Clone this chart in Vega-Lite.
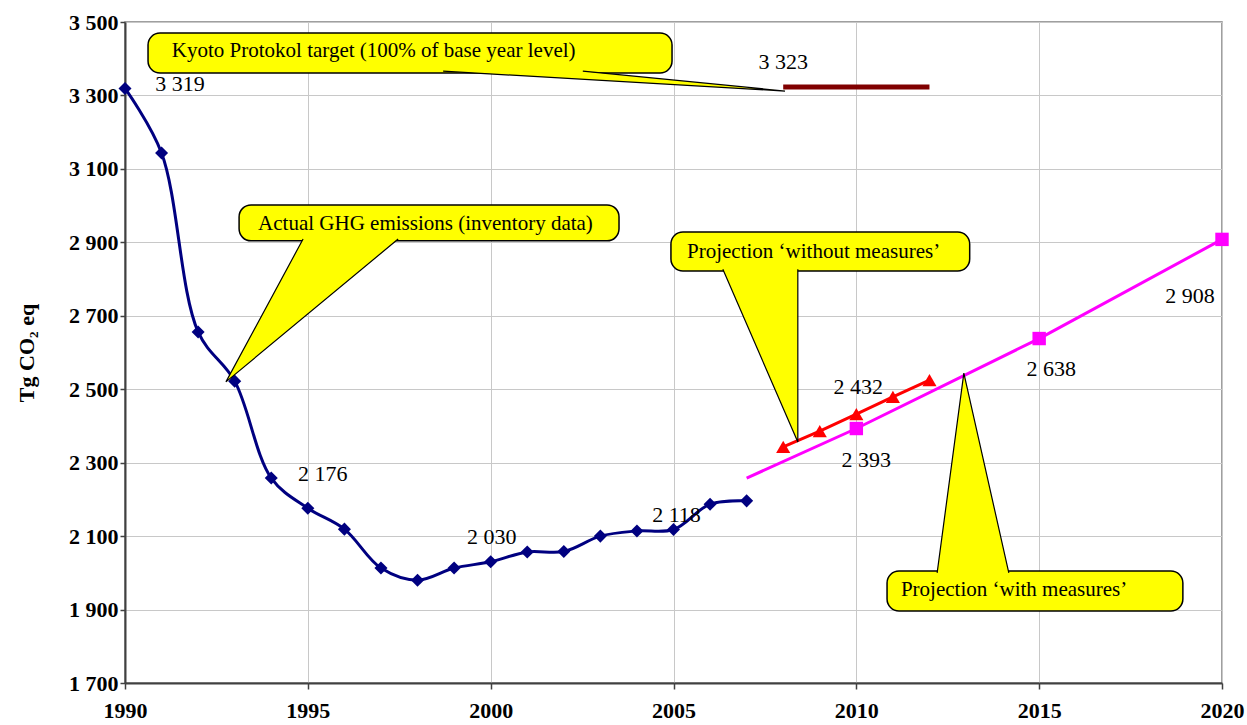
{
  "$schema": "https://vega.github.io/schema/vega-lite/v6.json",
  "width": 1097,
  "height": 661,
  "autosize": {"type": "none"},
  "padding": {"left": 125, "top": 22, "right": 25, "bottom": 42},
  "background": "white",
  "config": {
    "locale": {"number": {"decimal": ".", "thousands": " ", "grouping": [3], "currency": ["", ""]}},
    "view": {"stroke": "#808080", "strokeWidth": 1.5},
    "font": "Liberation Serif",
    "axis": {
      "labelFont": "Liberation Serif",
      "labelFontWeight": "bold",
      "labelFontSize": 22,
      "labelColor": "black",
      "labelFlush": false,
      "labelOverlap": false,
      "domainColor": "#404040",
      "domainWidth": 2,
      "tickColor": "#404040",
      "tickWidth": 1.5,
      "tickSize": 6,
      "gridColor": "#c8c8c8",
      "gridWidth": 1
    }
  },
  "datasets": {
    "inventory": [
      {"year": 1990, "value": 3319}, {"year": 1991, "value": 3143}, {"year": 1992, "value": 2656},
      {"year": 1993, "value": 2522}, {"year": 1994, "value": 2258}, {"year": 1995, "value": 2176},
      {"year": 1996, "value": 2119}, {"year": 1997, "value": 2013}, {"year": 1998, "value": 1980},
      {"year": 1999, "value": 2013}, {"year": 2000, "value": 2030}, {"year": 2001, "value": 2057},
      {"year": 2002, "value": 2058}, {"year": 2003, "value": 2100}, {"year": 2004, "value": 2114},
      {"year": 2005, "value": 2118}, {"year": 2006, "value": 2187}, {"year": 2007, "value": 2196}
    ],
    "without": [
      {"year": 2008, "value": 2343}, {"year": 2009, "value": 2386}, {"year": 2010, "value": 2432},
      {"year": 2011, "value": 2479}, {"year": 2012, "value": 2525}
    ],
    "with": [
      {"year": 2007, "value": 2258}, {"year": 2010, "value": 2393}, {"year": 2015, "value": 2638},
      {"year": 2020, "value": 2908}
    ],
    "kyoto": [
      {"year": 2008, "value": 3323}, {"year": 2012, "value": 3323}
    ],
    "boxes": [
      {"name": "kyoto", "x1": 1990.63, "x2": 2004.96, "y1": 3470, "y2": 3361, "tx": 1991.28, "ty": 3422, "text": "Kyoto Protokol target (100% of base year level)"},
      {"name": "actual", "x1": 1993.12, "x2": 2003.51, "y1": 3002, "y2": 2904, "tx": 1993.64, "ty": 2951, "text": "Actual GHG emissions (inventory data)"},
      {"name": "without", "x1": 2004.93, "x2": 2013.1, "y1": 2928, "y2": 2822, "tx": 2005.37, "ty": 2874, "text": "Projection ‘without measures’"},
      {"name": "with", "x1": 2010.84, "x2": 2018.93, "y1": 2005, "y2": 1896, "tx": 2011.22, "ty": 1954, "text": "Projection ‘with measures’"}
    ],
    "pointers": [
      {"name": "kyoto", "i": 1, "year": 1998.7, "value": 3366},
      {"name": "kyoto", "i": 2, "year": 2008.05, "value": 3312},
      {"name": "kyoto", "i": 3, "year": 2002.52, "value": 3366},
      {"name": "actual", "i": 1, "year": 1994.87, "value": 2909},
      {"name": "actual", "i": 2, "year": 1992.76, "value": 2520},
      {"name": "actual", "i": 3, "year": 1997.47, "value": 2909},
      {"name": "without", "i": 1, "year": 2006.35, "value": 2827},
      {"name": "without", "i": 2, "year": 2008.4, "value": 2356},
      {"name": "without", "i": 3, "year": 2008.4, "value": 2827},
      {"name": "with", "i": 1, "year": 2012.21, "value": 2000},
      {"name": "with", "i": 2, "year": 2012.94, "value": 2544},
      {"name": "with", "i": 3, "year": 2014.17, "value": 2000}
    ]
  },
  "encoding": {
    "x": {
      "field": "year", "type": "quantitative",
      "scale": {"domain": [1990, 2020], "nice": false, "zero": false},
      "axis": {"title": null, "values": [1990, 1995, 2000, 2005, 2010, 2015, 2020], "format": "d", "labelPadding": 11, "grid": true}
    },
    "y": {
      "field": "value", "type": "quantitative",
      "scale": {"domain": [1700, 3500], "nice": false, "zero": false},
      "axis": {
        "title": "Tg CO₂ eq", "titleFont": "Liberation Serif", "titleFontWeight": "bold", "titleFontSize": 22,
        "titleColor": "black", "titlePadding": 30,
        "values": [1700, 1900, 2100, 2300, 2500, 2700, 2900, 3100, 3300, 3500],
        "format": ",d", "labelPadding": 2, "tickSize": 5, "grid": true
      }
    }
  },
  "layer": [
    {"data": {"name": "kyoto"}, "mark": {"type": "line", "color": "#800000", "strokeWidth": 5}},
    {"data": {"name": "inventory"}, "mark": {"type": "line", "color": "#000080", "strokeWidth": 3, "interpolate": "catmull-rom"}},
    {"data": {"name": "inventory"}, "mark": {"type": "point", "shape": "diamond", "filled": true, "color": "#000080", "opacity": 1, "size": 170}},
    {"data": {"name": "without"}, "mark": {"type": "line", "color": "#FF0000", "strokeWidth": 3}},
    {"data": {"name": "without"}, "mark": {"type": "point", "shape": "triangle-up", "filled": true, "color": "#FF0000", "opacity": 1, "size": 200}},
    {"data": {"name": "with"}, "mark": {"type": "line", "color": "#FF00FF", "strokeWidth": 3}},
    {"data": {"name": "with"}, "transform": [{"filter": "datum.year >= 2010"}], "mark": {"type": "point", "shape": "square", "filled": true, "color": "#FF00FF", "opacity": 1, "size": 180}},
    {"data": {"name": "boxes"}, "mark": {"type": "rect", "fill": "#FFFF00", "stroke": "black", "strokeWidth": 1.5, "cornerRadius": 12},
      "encoding": {"x": {"field": "x1", "type": "quantitative"}, "x2": {"field": "x2"}, "y": {"field": "y1", "type": "quantitative"}, "y2": {"field": "y2"}}},
    {"data": {"name": "pointers"}, "mark": {"type": "line", "fill": "#FFFF00", "stroke": "black", "strokeWidth": 1.2},
      "encoding": {"detail": {"field": "name"}, "order": {"field": "i", "type": "quantitative"}}},
    {"data": {"name": "boxes"}, "mark": {"type": "text", "align": "left", "baseline": "middle", "font": "Liberation Serif", "fontSize": 21, "color": "black"},
      "encoding": {"x": {"field": "tx", "type": "quantitative"}, "y": {"field": "ty", "type": "quantitative"}, "text": {"field": "text"}}},
    {"data": {"name": "inventory"}, "transform": [{"filter": "datum.year == 1990"}], "mark": {"type": "text", "dx": 55, "dy": -4, "fontSize": 22, "font": "Liberation Serif", "color": "black"}, "encoding": {"text": {"field": "value", "type": "quantitative", "format": ",d"}}},
    {"data": {"name": "inventory"}, "transform": [{"filter": "datum.year == 1995"}], "mark": {"type": "text", "dx": 15, "dy": -34, "fontSize": 22, "font": "Liberation Serif", "color": "black"}, "encoding": {"text": {"field": "value", "type": "quantitative", "format": ",d"}}},
    {"data": {"name": "inventory"}, "transform": [{"filter": "datum.year == 2000"}], "mark": {"type": "text", "dx": 1, "dy": -25, "fontSize": 22, "font": "Liberation Serif", "color": "black"}, "encoding": {"text": {"field": "value", "type": "quantitative", "format": ",d"}}},
    {"data": {"name": "inventory"}, "transform": [{"filter": "datum.year == 2005"}], "mark": {"type": "text", "dx": 3, "dy": -15, "fontSize": 22, "font": "Liberation Serif", "color": "black"}, "encoding": {"text": {"field": "value", "type": "quantitative", "format": ",d"}}},
    {"data": {"name": "kyoto"}, "transform": [{"filter": "datum.year == 2008"}], "mark": {"type": "text", "dx": 0, "dy": -25, "fontSize": 22, "font": "Liberation Serif", "color": "black"}, "encoding": {"text": {"field": "value", "type": "quantitative", "format": ",d"}}},
    {"data": {"name": "without"}, "transform": [{"filter": "datum.year == 2010"}], "mark": {"type": "text", "dx": 2, "dy": -27, "fontSize": 22, "font": "Liberation Serif", "color": "black"}, "encoding": {"text": {"field": "value", "type": "quantitative", "format": ",d"}}},
    {"data": {"name": "with"}, "transform": [{"filter": "datum.year == 2010"}], "mark": {"type": "text", "dx": 10, "dy": 31, "fontSize": 22, "font": "Liberation Serif", "color": "black"}, "encoding": {"text": {"field": "value", "type": "quantitative", "format": ",d"}}},
    {"data": {"name": "with"}, "transform": [{"filter": "datum.year == 2015"}], "mark": {"type": "text", "dx": 12, "dy": 30, "fontSize": 22, "font": "Liberation Serif", "color": "black"}, "encoding": {"text": {"field": "value", "type": "quantitative", "format": ",d"}}},
    {"data": {"name": "with"}, "transform": [{"filter": "datum.year == 2020"}], "mark": {"type": "text", "dx": -32, "dy": 57, "fontSize": 22, "font": "Liberation Serif", "color": "black"}, "encoding": {"text": {"field": "value", "type": "quantitative", "format": ",d"}}}
  ]
}
